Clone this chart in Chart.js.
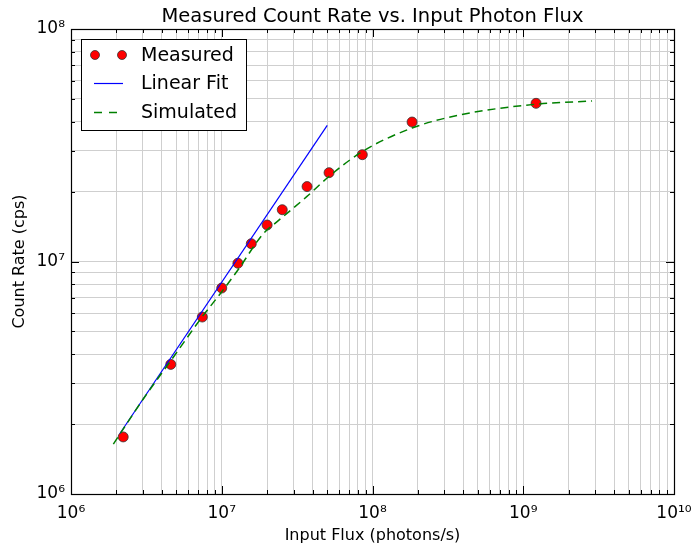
<!DOCTYPE html>
<html>
<head>
<meta charset="utf-8">
<script src="https://cdn.jsdelivr.net/npm/chart.js@4.4.1/dist/chart.umd.min.js"></script>
<style>
  html, body { margin: 0; padding: 0; background: #fff; }
  #wrap { width: 691px; height: 548px; position: relative; }
</style>
</head>
<body>
<div id="wrap"><canvas id="c" width="691" height="548"></canvas></div>
<script>
// ---- Data ----
const measuredFlux  = [2.22e6, 4.59e6, 7.43e6, 1.0e7, 1.28e7, 1.57e7, 2.0e7, 2.52e7, 3.68e7, 5.15e7, 8.56e7, 1.83e8, 1.216e9];
const measuredCount = [1.76e6, 3.61e6, 5.77e6, 7.69e6, 9.83e6, 1.193e7, 1.435e7, 1.67e7, 2.10e7, 2.41e7, 2.88e7, 3.98e7, 4.79e7];

const fitFlux  = [2.11e6, 5.01e7];
const fitCount = [1.82e6, 3.85e7];

const simFlux  = [1.91e6, 3.0e6, 4.6e6, 7.4e6, 1.0e7, 1.28e7, 1.89e7, 2.32e7, 3.66e7, 5.14e7, 8.55e7, 1.83e8, 3.8e8, 1.22e9, 2.86e9];
const simCount = [1.64e6, 2.55e6, 3.75e6, 5.77e6, 7.41e6, 9.19e6, 1.32e7, 1.48e7, 1.90e7, 2.32e7, 2.97e7, 3.75e7, 4.27e7, 4.75e7, 4.90e7];

const xMajorTicks  = [1e6, 1e7, 1e8, 1e9, 1e10];
const xMajorLabels = ['10⁶', '10⁷', '10⁸', '10⁹', '10¹⁰'];
const yMajorTicks  = [1e6, 1e7, 1e8];
const yMajorLabels = ['10⁶', '10⁷', '10⁸'];
const minorMultipliers = [2, 3, 4, 5, 6, 7, 8, 9];

const seriesNames = ['Measured', 'Linear Fit', 'Simulated'];
const titleText = 'Measured Count Rate vs. Input Photon Flux';
const xTitle = 'Input Flux (photons/s)';
const yTitle = 'Count Rate (cps)';

// ---- helpers ----
function buildTicks(majors) {
  const out = [];
  majors.forEach((m, i) => {
    out.push({ value: m, major: true });
    if (i < majors.length - 1) minorMultipliers.forEach(k => out.push({ value: m * k, major: false }));
  });
  return out;
}
function zip(xs, ys) { return xs.map((x, i) => ({ x: x, y: ys[i] })); }
function labelFor(value, majors, labels) {
  const idx = majors.findIndex(m => Math.abs(m - value) / m < 1e-9);
  return idx >= 0 ? labels[idx] : '';
}

const FONT = "'DejaVu Sans', sans-serif";

const framePlugin = {
  id: 'frame',
  afterDraw(chart) {
    const ctx = chart.ctx;
    const a = chart.chartArea;
    ctx.save();
    // inward ticks on all four sides
    ctx.strokeStyle = '#000';
    ctx.lineWidth = 1;
    const xs = chart.scales.x, ys = chart.scales.y;
    xs.ticks.forEach(t => {
      const px = Math.round(xs.getPixelForValue(t.value)) + 0.5;
      const len = t.major ? 8 : 4;
      ctx.beginPath();
      ctx.moveTo(px, a.bottom); ctx.lineTo(px, a.bottom - len);
      ctx.moveTo(px, a.top); ctx.lineTo(px, a.top + len);
      ctx.stroke();
    });
    ys.ticks.forEach(t => {
      const py = Math.round(ys.getPixelForValue(t.value)) + 0.5;
      const len = t.major ? 8 : 4;
      ctx.beginPath();
      ctx.moveTo(a.left, py); ctx.lineTo(a.left + len, py);
      ctx.moveTo(a.right, py); ctx.lineTo(a.right - len, py);
      ctx.stroke();
    });
    // frame
    ctx.lineWidth = 1.2;
    ctx.strokeRect(Math.round(a.left) + 0.5, Math.round(a.top) + 0.5, Math.round(a.right - a.left), Math.round(a.bottom - a.top));

    // title
    ctx.fillStyle = '#000';
    ctx.font = '19.5px ' + FONT;
    ctx.textAlign = 'center';
    ctx.textBaseline = 'middle';
    ctx.fillText(titleText, (a.left + a.right) / 2, 17);

    // legend
    const lx = 81, ly = 39, lw = 165, lh = 91;
    ctx.fillStyle = '#fff';
    ctx.fillRect(lx, ly, lw, lh);
    ctx.strokeStyle = '#000';
    ctx.lineWidth = 1;
    ctx.strokeRect(lx + 0.5, ly + 0.5, lw, lh);
    const rows = [55, 83, 112];
    // Measured markers
    [95, 122].forEach(cx => {
      ctx.beginPath();
      ctx.arc(cx, rows[0], 4.5, 0, Math.PI * 2);
      ctx.fillStyle = '#ff0000';
      ctx.fill();
      ctx.strokeStyle = '#333';
      ctx.lineWidth = 0.8;
      ctx.stroke();
    });
    // Linear fit sample
    ctx.strokeStyle = '#0000ff';
    ctx.lineWidth = 1.2;
    ctx.beginPath(); ctx.moveTo(94, rows[1] + 0.5); ctx.lineTo(123, rows[1] + 0.5); ctx.stroke();
    // Simulated sample
    ctx.strokeStyle = '#008000';
    ctx.lineWidth = 1.4;
    ctx.setLineDash([8, 7]);
    ctx.beginPath(); ctx.moveTo(94, rows[2] + 0.5); ctx.lineTo(124, rows[2] + 0.5); ctx.stroke();
    ctx.setLineDash([]);
    ctx.fillStyle = '#000';
    ctx.font = '19px ' + FONT;
    ctx.textAlign = 'left';
    ctx.textBaseline = 'middle';
    seriesNames.forEach((n, i) => ctx.fillText(n, 141, rows[i] + 1));
    ctx.restore();
  }
};

const gridColor = '#cfcfcf';

new Chart(document.getElementById('c'), {
  type: 'scatter',
  data: {
    datasets: [
      {
        label: seriesNames[0],
        data: zip(measuredFlux, measuredCount),
        backgroundColor: '#ff0000',
        borderColor: '#333333',
        borderWidth: 0.8,
        pointRadius: 5,
        showLine: false,
        order: 2
      },
      {
        label: seriesNames[1],
        data: zip(fitFlux, fitCount),
        borderColor: '#0000ff',
        borderWidth: 1.2,
        pointRadius: 0,
        showLine: true,
        order: 1
      },
      {
        label: seriesNames[2],
        data: zip(simFlux, simCount),
        borderColor: '#008000',
        borderWidth: 1.5,
        borderDash: [8, 5],
        pointRadius: 0,
        showLine: true,
        cubicInterpolationMode: 'monotone',
        order: 0
      }
    ]
  },
  plugins: [framePlugin],
  options: {
    responsive: false,
    animation: false,
    devicePixelRatio: 1,
    layout: { padding: { top: 29, right: 17, left: 0, bottom: 0 } },
    plugins: { legend: { display: false }, title: { display: false }, tooltip: { enabled: false } },
    scales: {
      x: {
        type: 'logarithmic',
        min: 1e6, max: 1e10,
        afterBuildTicks(scale) { scale.ticks = buildTicks(xMajorTicks); },
        afterFit(scale) { scale.height = 54; scale.paddingLeft = 0; scale.paddingRight = 0; },
        grid: { color: gridColor, lineWidth: 1, drawTicks: false },
        border: { display: false },
        ticks: {
          autoSkip: false, maxRotation: 0, padding: 9,
          color: '#000', font: { family: FONT, size: 17 },
          callback(v) { return labelFor(v, xMajorTicks, xMajorLabels); }
        },
        title: { display: true, text: xTitle, color: '#000', font: { family: FONT, size: 16 }, padding: { top: 0, bottom: 3 } }
      },
      y: {
        type: 'logarithmic',
        min: 1e6, max: 1e8,
        afterBuildTicks(scale) { scale.ticks = buildTicks(yMajorTicks); },
        afterFit(scale) { scale.width = 71; scale.paddingTop = 0; scale.paddingBottom = 0; },
        grid: { color: gridColor, lineWidth: 1, drawTicks: false },
        border: { display: false },
        ticks: {
          autoSkip: false, padding: 6,
          color: '#000', font: { family: FONT, size: 17 },
          callback(v) { return labelFor(v, yMajorTicks, yMajorLabels); }
        },
        title: { display: true, text: yTitle, color: '#000', font: { family: FONT, size: 16 }, padding: { top: 10, bottom: 0 } }
      }
    }
  }
});
</script>
</body>
</html>
